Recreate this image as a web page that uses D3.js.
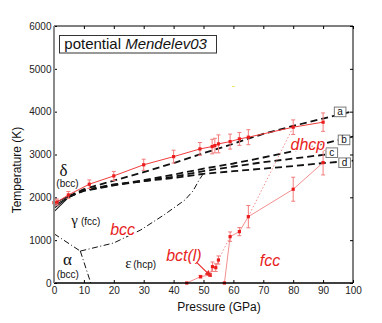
<!DOCTYPE html>
<html>
<head>
<meta charset="utf-8">
<script src="https://cdn.jsdelivr.net/npm/d3@7"></script>
<style>
  body { margin: 0; background: #fff; }
  svg { display: block; }
</style>
</head>
<body>
<svg id="chart" width="382" height="323"></svg>
<script>
// melting curve with error bars (red, solid)
const meltP   = [0, 1, 4.8, 11.8, 20, 30, 40, 48.8, 52.9, 53.8, 55, 58.9, 62, 65, 80, 90];
const meltT   = [1876, 1890, 2056, 2306, 2500, 2760, 2950, 3130, 3185, 3208, 3248, 3301, 3364, 3404, 3638, 3755];
const meltErr = [70, 70, 80, 100, 105, 130, 150, 150, 170, 170, 210, 175, 150, 175, 170, 215];

// bct(l) branch
const bctP   = [44.4, 49, 52.2, 53, 54.1, 55];
const bctT   = [0, 148, 187, 381, 358, 537];
const bctErr = [0, 30, 30, 110, 90, 95];

// fcc branch
const fccP   = [57, 58.9, 62, 65, 80, 90];
const fccT   = [0, 1082, 1199, 1549, 2189, 2811];
const fccErr = [0, 110, 95, 260, 280, 288];

// dotted connections
const dotA = [[55, 537], [58.9, 1082]];
const dotB = [[65, 1549], [80, 3638]];

// dashed lines a-d
const aP = [0, 5, 10, 20, 30, 40, 50, 60, 65, 70, 80, 90, 100];
const aT = [1860, 2030, 2190, 2390, 2590, 2800, 3030, 3250, 3370, 3480, 3668, 3840, 4010];
const bP = [0, 5, 10, 20, 30, 40, 50, 60, 70, 80, 90, 100];
const bT = [1800, 2015, 2160, 2290, 2400, 2530, 2670, 2790, 2930, 3080, 3250, 3418];
const cP = [0, 5, 10, 20, 30, 40, 50, 60, 70, 80, 91];
const cT = [1745, 2012, 2150, 2280, 2380, 2480, 2610, 2720, 2820, 2905, 3000];
const dP = [0, 5, 10, 20, 30, 40, 50, 60, 70, 80, 90, 100];
const dT = [1665, 2010, 2170, 2300, 2380, 2450, 2550, 2610, 2670, 2730, 2800, 2855];

// phase boundaries (dash-dot)
const alphaGammaP = [0, 8.8];
const alphaGammaT = [1150, 745];
const alphaEpsP = [8.8, 12.3];
const alphaEpsT = [745, 0];
const gammaEpsP = [8.8, 20, 29, 36.8, 43.8, 46.5, 48.5, 50];
const gammaEpsT = [745, 935, 1238, 1590, 1939, 2150, 2400, 2560];

const xTicks = [0, 10, 20, 30, 40, 50, 60, 70, 80, 90, 100];
const yTicks = [0, 1000, 2000, 3000, 4000, 5000, 6000];

const svg = d3.select('#chart');
const x = d3.scaleLinear().domain([0, 100]).range([54, 353]);
const y = d3.scaleLinear().domain([0, 6000]).range([283, 26]);
const sans = '"Liberation Sans", Arial, Helvetica, sans-serif';
const serif = '"Liberation Serif", "Times New Roman", serif';

const zip = (a, b) => a.map((v, i) => [v, b[i]]);
const line = d3.line().x(d => x(d[0])).y(d => y(d[1]));

svg.append('clipPath').attr('id', 'plot')
  .append('rect').attr('x', 54).attr('y', 26).attr('width', 299).attr('height', 257);
const plot = svg.append('g').attr('clip-path', 'url(#plot)');

// axes
const styleAxis = g => {
  g.select('.domain').remove();
  g.selectAll('line').attr('stroke', '#000');
  g.selectAll('text').style('font', '10px ' + sans).attr('fill', '#222');
};
svg.append('g').attr('transform', 'translate(0,283)')
  .call(d3.axisBottom(x).tickValues(xTicks).tickSize(-3).tickPadding(4)).call(styleAxis);
svg.append('g').attr('transform', 'translate(54,0)')
  .call(d3.axisLeft(y).tickValues(yTicks).tickFormat(d3.format('d')).tickSize(-3).tickPadding(2.5)).call(styleAxis);
svg.append('g').attr('transform', 'translate(0,26)')
  .call(d3.axisTop(x).tickValues(xTicks).tickSize(-3).tickFormat('')).call(styleAxis);
svg.append('g').attr('transform', 'translate(353,0)')
  .call(d3.axisRight(y).tickValues(yTicks).tickSize(-3).tickFormat('')).call(styleAxis);

// phase boundaries
[[alphaGammaP, alphaGammaT], [alphaEpsP, alphaEpsT], [gammaEpsP, gammaEpsT]].forEach(([p, t]) => {
  plot.append('path').attr('d', line(zip(p, t)))
    .attr('fill', 'none').attr('stroke', '#111').attr('stroke-width', 1)
    .attr('stroke-dasharray', '6,2.5,1,2.5');
});

// dashed lines: solid near the origin, dashed beyond
[[aP, aT], [bP, bT], [cP, cT], [dP, dT]].forEach(([p, t]) => {
  const pts = zip(p, t);
  plot.append('path').attr('d', line(pts.filter(d => d[0] <= 5)))
    .attr('fill', 'none').attr('stroke', '#111').attr('stroke-width', 1.1);
  plot.append('path').attr('d', line(pts.filter(d => d[0] >= 5)))
    .attr('fill', 'none').attr('stroke', '#111').attr('stroke-width', 1.8)
    .attr('stroke-dasharray', '7,4');
});

// red series
const drawSeries = (p, t, err, lineColor) => {
  const pts = p.map((v, i) => ({ p: v, t: t[i], e: err[i] }));
  plot.append('path').attr('d', line(pts.map(d => [d.p, d.t])))
    .attr('fill', 'none').attr('stroke', lineColor).attr('stroke-width', 1);
  const eb = plot.append('g').attr('stroke', '#f27c7c').attr('stroke-width', 1);
  pts.filter(d => d.e > 0).forEach(d => {
    eb.append('line').attr('x1', x(d.p)).attr('x2', x(d.p)).attr('y1', y(d.t - d.e)).attr('y2', y(d.t + d.e));
    [d.t - d.e, d.t + d.e].forEach(v => eb.append('line')
      .attr('x1', x(d.p) - 2).attr('x2', x(d.p) + 2).attr('y1', y(v)).attr('y2', y(v)));
  });
  svg.append('g').selectAll('rect').data(pts).join('rect')
    .attr('x', d => x(d.p) - 1.6).attr('y', d => y(d.t) - 1.6)
    .attr('width', 3.2).attr('height', 3.2).attr('fill', '#ec1c1c');
};

[dotA, dotB].forEach(pts => {
  plot.append('path').attr('d', line(pts))
    .attr('fill', 'none').attr('stroke', '#f39090').attr('stroke-width', 1)
    .attr('stroke-dasharray', '1.5,2');
});
drawSeries(bctP, bctT, bctErr, '#f39090');
drawSeries(fccP, fccT, fccErr, '#f39090');
drawSeries(meltP, meltT, meltErr, '#f03c3c');

// arrow from bct(l) label to the point
svg.append('defs').append('marker').attr('id', 'arr')
  .attr('viewBox', '0 0 10 10').attr('refX', 9).attr('refY', 5)
  .attr('markerWidth', 6).attr('markerHeight', 6).attr('orient', 'auto')
  .append('path').attr('d', 'M0,1 L10,5 L0,9 Z').attr('fill', '#e82828');
svg.append('path').attr('d', line([[47.7, 480], [52.6, 150]]))
  .attr('stroke', '#e82828').attr('stroke-width', 1.2).attr('marker-end', 'url(#arr)');

// stray tiny mark
svg.append('line').attr('x1', x(59.5)).attr('x2', x(60.5)).attr('y1', y(4587)).attr('y2', y(4587))
  .attr('stroke', '#f2e66a').attr('stroke-width', 1);

// axis frame
svg.append('line').attr('x1', 54).attr('x2', 353).attr('y1', 26).attr('y2', 26).attr('stroke', '#000');
svg.append('line').attr('x1', 353).attr('x2', 353).attr('y1', 26).attr('y2', 283).attr('stroke', '#000');
svg.append('line').attr('x1', 54).attr('x2', 353).attr('y1', 283).attr('y2', 283).attr('stroke', '#000').attr('stroke-width', 1.4);
svg.append('line').attr('x1', 54).attr('x2', 54).attr('y1', 26).attr('y2', 283).attr('stroke', '#8a8a8a').attr('stroke-width', 2);

// boxed line labels
[['a', 95.7, 3995], ['b', 97, 3341], ['c', 92.9, 3042], ['d', 97.2, 2808]].forEach(([s, p, t]) => {
  const g = svg.append('g').attr('transform', `translate(${x(p)},${y(t)})`);
  g.append('rect').attr('x', -5.8).attr('y', -4.8).attr('width', 11.6).attr('height', 9.6)
    .attr('fill', '#fff').attr('stroke', '#7a7a7a').attr('stroke-width', 1);
  g.append('text').attr('text-anchor', 'middle').attr('y', 3.4)
    .style('font', '10px ' + sans).attr('fill', '#111').text(s);
});

// phase labels
const label = (txt, p, t, font, color, anchor, halo) => {
  const el = svg.append('text')
    .attr('x', x(p)).attr('y', y(t)).attr('text-anchor', anchor || 'start')
    .style('font', font).attr('fill', color).text(txt);
  if (halo) el.attr('stroke', '#fff').attr('stroke-width', 3).attr('paint-order', 'stroke');
  return el;
};
label('δ', 3.2, 2500, '17px ' + serif, '#111', 'middle');
label('(bcc)', 4.5, 2240, '10px ' + sans, '#111', 'middle');
label('γ', 5.8, 1350, '15px ' + serif, '#111', 'start');
label('(fcc)', 9, 1350, '10px ' + sans, '#111', 'start');
label('α', 4.5, 420, '17px ' + serif, '#111', 'middle');
label('(bcc)', 4.6, 115, '10px ' + sans, '#111', 'middle');
label('ε', 23.8, 350, '15px ' + serif, '#111', 'start');
label('(hcp)', 26.5, 350, '10px ' + sans, '#111', 'start');
label('bcc', 18.8, 1130, 'italic 16px ' + sans, '#e81e1e', 'start', true);
label('bct(l)', 37.5, 510, 'italic 16px ' + sans, '#e81e1e', 'start');
label('fcc', 68.8, 400, 'italic 16px ' + sans, '#e81e1e', 'start');
label('dhcp', 79.1, 3095, 'italic 16px ' + sans, '#e81e1e', 'start', true);

// title box
svg.append('rect').attr('x', 59.5).attr('y', 35.5).attr('width', 157).attr('height', 17.5)
  .attr('fill', '#fff').attr('stroke', '#333').attr('stroke-width', 1);
const title = svg.append('text').attr('x', 64.3).attr('y', 48.5).style('font', '15px ' + sans).attr('fill', '#111');
title.append('tspan').text('potential ');
title.append('tspan').style('font-style', 'italic').text('Mendelev03');

// axis titles
svg.append('text').attr('x', 219).attr('y', 311).attr('text-anchor', 'middle')
  .style('font', '12px ' + sans).attr('fill', '#111').text('Pressure (GPa)');
svg.append('text').attr('transform', 'translate(21,170) rotate(-90)').attr('text-anchor', 'middle')
  .style('font', '12px ' + sans).attr('fill', '#111').text('Temperature (K)');
</script>
</body>
</html>
